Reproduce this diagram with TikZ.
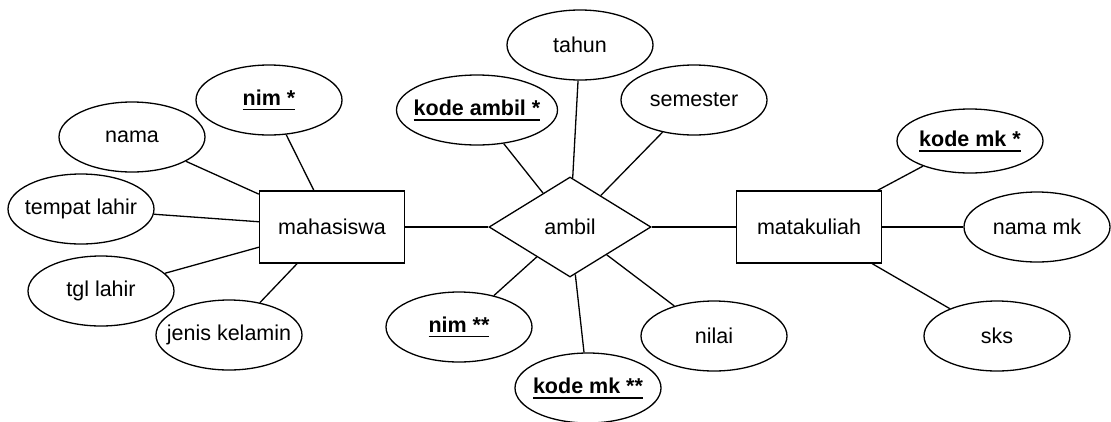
\documentclass[tikz,border=0pt]{standalone}
\usepackage{fontspec}
\setmainfont{Liberation Sans}
\usetikzlibrary{shapes.geometric}
\newcommand\keyul[1]{\vtop{\hbox{\textbf{#1}}\kern3.5pt\hrule height 1.8pt}}
\begin{document}
\begin{tikzpicture}[x=1pt,y=-1pt,
  txt/.style={font=\fontsize{21.5}{26}\selectfont},
  attr/.style={txt, draw, ellipse, line width=1.3pt, minimum width=146pt, minimum height=70pt, inner sep=0pt, inner xsep=-30pt, fill=white},
  ent/.style={txt, draw, rectangle, line width=1.3pt, minimum width=145pt, minimum height=72pt, inner sep=0pt, fill=white},
  rel/.style={txt, draw, diamond, line width=1.3pt, minimum width=162pt, minimum height=100pt, inner sep=0pt, fill=white},
  link/.style={line width=1.3pt}]
\useasboundingbox (0,0) rectangle (1111,421);
% entities
\node[ent] (mhs) at (332,227) {mahasiswa};
\node[rel] (ambil) at (570,227) {ambil};
\node[ent] (mk) at (809,227) {matakuliah};
% mahasiswa attributes
\node[attr] (nim) at (269,100) {\keyul{nim *}};
\node[attr] (nama) at (132,137) {nama};
\node[attr] (tl) at (81,209) {tempat lahir};
\node[attr] (tgl) at (101,291) {tgl lahir};
\node[attr] (jk) at (229,335) {jenis kelamin};
% ambil attributes
\node[attr] (tahun) at (580,45) {tahun};
\node[attr, minimum width=161pt] (ka) at (477,110) {\keyul{kode ambil *}};
\node[attr] (sem) at (694,100) {semester};
\node[attr] (nim2) at (459,327) {\keyul{nim **}};
\node[attr] (kmk2) at (588,388) {\keyul{kode mk **}};
\node[attr] (nilai) at (714,336) {nilai};
% matakuliah attributes
\node[attr, minimum height=64pt] (kmk) at (970,141) {\keyul{kode mk *}};
\node[attr] (nmk) at (1037,227) {nama mk};
\node[attr] (sks) at (997,336) {sks};
% links
\foreach \a in {nim,nama,tl,tgl,jk} \draw[link] (\a) -- (mhs);
\foreach \a in {tahun,ka,sem,nim2,kmk2,nilai} \draw[link] (\a) -- (ambil);
\foreach \a in {kmk,nmk,sks} \draw[link] (\a) -- (mk);
\draw[link] (mhs) -- (ambil);
\draw[link] (ambil) -- (mk);
\end{tikzpicture}
\end{document}
